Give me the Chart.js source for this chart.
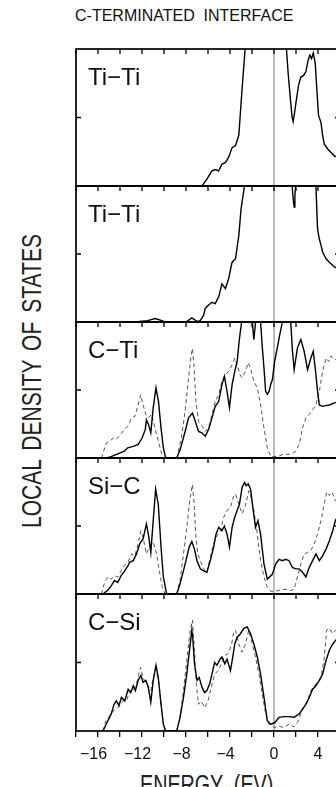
<!DOCTYPE html>
<html>
<head>
<meta charset="utf-8">
<script src="https://cdn.jsdelivr.net/npm/chart.js@4.4.1/dist/chart.umd.min.js"></script>
<style>
  html, body { margin: 0; padding: 0; background: #fff; width: 336px; height: 787px; overflow: hidden; }
  body { position: relative; }
  .txt { position: absolute; font-family: "Liberation Sans", Arial, sans-serif; color: #111; white-space: pre; line-height: 1; }
  .panel { position: absolute; }
</style>
</head>
<body>
<div class="txt" style="left:75px; top:8px; font-size:16px;">C-TERMINATED  INTERFACE</div>
<div class="txt" style="left:31.7px; top:381px; font-size:27px; color:#222; word-spacing:4px; transform:translate(-50%,-50%) rotate(-90deg) scaleX(0.78);">LOCAL DENSITY OF STATES</div>
<div class="txt" style="left:140px; top:771.5px; font-size:27px; color:#222; transform-origin:left top; transform:scaleX(0.73);">ENERGY  (EV)</div>
<div id="panels"></div>
<script>
// energy axis
const energyMin = -18, energyMax = 6;
const xTickValues = [-16, -12, -8, -4, 0, 4];
const xTickLabels = ["\u221216  ", "\u221212  ", "\u22128  ", "\u22124  ", "0", "4"];
const panelLabels = ["Ti\u2212Ti", "Ti\u2212Ti", "C\u2212Ti", "Si\u2212C", "C\u2212Si"];

// panel 1: Ti-Ti
const p1SolidE = [-6.55, -6.1, -5.64, -5.34, -5.03, -4.73, -4.42, -4.12, -3.81, -3.5, -3.2, -3.05, -2.9, -2.74, -2.6, -2.45, 0.95, 1.13, 1.3, 1.5, 1.65, 1.74, 1.85, 1.98, 2.23, 2.44, 2.68, 2.9, 3.11, 3.26, 3.41, 3.57, 3.75, 3.93, 4.05, 4.27, 4.42, 4.57, 4.88, 5.18, 5.49, 6];
const p1Solid  = [0, 0.1, 0.22, 0.24, 0.22, 0.32, 0.34, 0.42, 0.56, 0.59, 0.74, 1.08, 1.42, 1.76, 2.05, 2.4, 2.4, 2.0, 1.62, 1.25, 1.0, 0.94, 1.05, 1.2, 1.47, 1.59, 1.61, 1.67, 1.84, 1.91, 1.86, 1.94, 1.79, 1.32, 1.03, 0.93, 0.74, 0.61, 0.54, 0.49, 0.44, 0.4];

// panel 2: Ti-Ti
const p2SolidE = [-12.4, -12.2, -11.5, -10.8, -10.2, -9.9, -8.0, -7.47, -7.0, -6.7, -6.4, -6.25, -5.95, -5.64, -5.34, -5.03, -4.73, -4.42, -4.12, -3.81, -3.5, -3.2, -2.99, -2.74, -2.6, -2.45, 1.45, 1.62, 1.75, 1.83, 1.9, 1.98, 2.1, 3.65, 3.81, 3.96, 4.12, 4.27, 4.42, 4.73, 5.03, 5.49, 6];
const p2Solid  = [0, 0.01, 0.02, 0.05, 0.02, 0, 0, 0.06, 0.01, 0.02, 0.1, 0.2, 0.25, 0.29, 0.27, 0.37, 0.56, 0.49, 0.64, 0.88, 0.93, 1.27, 1.67, 1.94, 2.1, 2.4, 2.4, 2.05, 1.8, 1.69, 1.85, 2.05, 2.4, 2.4, 2.0, 1.37, 1.22, 1.13, 1.03, 0.93, 0.88, 0.81, 0.77];

// panel 3: C-Ti
const p3SolidE = [-15.24, -14.8, -14.2, -13.6, -13.3, -12.8, -12.35, -12.0, -11.7, -11.6, -11.4, -11.2, -10.98, -10.73, -10.5, -10.27, -10.06, -9.85, -8.84, -8.54, -8.08, -7.77, -7.41, -7.16, -6.86, -6.55, -6.25, -5.95, -5.64, -5.34, -5.03, -4.73, -4.51, -4.27, -4.05, -3.81, -3.57, -3.35, -3.14, -2.9, -2.75, -2.2, -2.0, -1.83, -1.65, -1.5, -1.35, -1.22, -1.05, -0.91, -0.76, -0.6, -0.45, -0.3, -0.15, 0.06, 0.3, 0.52, 0.76, 0.9, 1.4, 1.52, 1.68, 1.83, 2.13, 2.44, 2.74, 3.05, 3.35, 3.57, 3.75, 3.96, 4.12, 4.42, 4.73, 5.03, 5.49, 6];
const p3Solid  = [0, 0.02, 0.06, 0.1, 0.15, 0.17, 0.2, 0.29, 0.42, 0.56, 0.49, 0.37, 0.74, 1.03, 0.83, 0.44, 0.15, 0, 0, 0.12, 0.39, 0.59, 0.66, 0.54, 0.39, 0.37, 0.32, 0.42, 0.59, 0.76, 0.83, 1.08, 1.2, 0.98, 0.74, 1.08, 1.27, 1.42, 1.76, 2.05, 2.4, 2.4, 2.05, 1.74, 2.05, 2.4, 2.4, 2.0, 1.6, 1.32, 0.98, 0.94, 0.98, 1.08, 1.15, 1.42, 1.62, 1.81, 2.0, 2.4, 2.4, 2.0, 1.57, 1.3, 1.62, 1.74, 1.57, 1.3, 1.47, 1.57, 1.32, 0.98, 0.78, 0.76, 0.77, 0.78, 0.81, 0.83];
const p3DashE = [-15.7, -15.24, -14.94, -14.6, -14.33, -14.0, -13.57, -13.26, -12.96, -12.65, -12.35, -12.13, -11.9, -11.65, -11.43, -11.13, -10.82, -10.52, -10.2, -10.06, -8.84, -8.69, -8.38, -8.08, -7.77, -7.53, -7.41, -7.26, -7.1, -6.86, -6.55, -6.25, -5.95, -5.64, -5.34, -5.03, -4.73, -4.42, -4.12, -3.81, -3.57, -3.35, -3.11, -2.9, -2.6, -2.35, -2.13, -1.83, -1.52, -1.22, -0.91, -0.61, -0.3, 0, 0.46, 0.91, 1.22, 1.68, 1.98, 2.29, 2.59, 2.9, 3.2, 3.51, 3.81, 4.12, 4.42, 4.73, 4.97, 5.18, 5.49, 6];
const p3Dash  = [0, 0.22, 0.25, 0.29, 0.27, 0.34, 0.42, 0.47, 0.59, 0.61, 0.78, 0.93, 0.78, 0.64, 0.59, 0.64, 0.44, 0.25, 0.05, 0, 0, 0.1, 0.34, 0.69, 1.18, 1.52, 1.61, 1.32, 0.83, 0.54, 0.47, 0.39, 0.44, 0.64, 0.83, 0.93, 1.13, 1.23, 1.27, 1.37, 1.47, 1.37, 1.23, 1.18, 1.27, 1.4, 1.32, 1.13, 1.03, 0.78, 0.44, 0.15, 0.02, 0.02, 0.03, 0.06, 0.05, 0.07, 0.1, 0.2, 0.44, 0.59, 0.64, 0.71, 0.78, 0.98, 1.27, 1.47, 1.42, 1.5, 1.45, 1.45];

// panel 4: Si-C
const p4SolidE = [-15.55, -15.1, -14.8, -14.5, -14.2, -13.9, -13.57, -13.26, -13.1, -12.8, -12.5, -12.2, -11.9, -11.6, -11.4, -11.2, -10.98, -10.76, -10.52, -10.27, -10.06, -9.76, -8.84, -8.54, -8.08, -7.71, -7.47, -7.23, -7.0, -6.7, -6.4, -6.1, -5.79, -5.49, -5.27, -5.03, -4.73, -4.51, -4.27, -4.05, -3.81, -3.57, -3.35, -3.14, -2.9, -2.68, -2.53, -2.35, -2.13, -1.89, -1.68, -1.46, -1.22, -0.91, -0.61, -0.15, 0.15, 0.46, 0.76, 1.07, 1.37, 1.68, 1.98, 2.29, 2.59, 2.9, 3.2, 3.51, 3.81, 4.12, 4.42, 4.73, 5.03, 5.34, 5.58, 6];
const p4Solid  = [0, 0.06, 0.12, 0.2, 0.17, 0.27, 0.34, 0.42, 0.47, 0.49, 0.59, 0.74, 0.81, 1.03, 0.86, 0.61, 1.08, 1.54, 1.32, 0.69, 0.25, 0, 0, 0.15, 0.44, 0.69, 0.77, 0.66, 0.49, 0.37, 0.34, 0.32, 0.49, 0.69, 0.88, 0.98, 0.93, 1.0, 0.88, 0.69, 0.98, 1.13, 1.23, 1.32, 1.57, 1.64, 1.59, 1.62, 1.54, 1.23, 0.98, 1.08, 0.88, 0.44, 0.22, 0.29, 0.44, 0.51, 0.49, 0.51, 0.49, 0.39, 0.37, 0.37, 0.32, 0.25, 0.39, 0.49, 0.59, 0.49, 0.56, 0.66, 0.78, 0.93, 1.08, 1.2];
const p4DashE = [-15.7, -15.4, -15.1, -14.8, -14.5, -14.2, -13.9, -13.57, -13.26, -12.96, -12.65, -12.35, -12.1, -11.9, -11.6, -11.28, -10.98, -10.67, -10.37, -10.15, -9.9, -8.84, -8.54, -8.23, -7.93, -7.62, -7.41, -7.26, -7.1, -6.92, -6.7, -6.4, -6.1, -5.79, -5.49, -5.18, -4.88, -4.57, -4.27, -3.96, -3.66, -3.5, -3.2, -2.9, -2.6, -2.29, -2.04, -1.83, -1.52, -1.22, -0.91, -0.61, -0.3, 0.15, 0.61, 1.07, 1.52, 1.83, 2.13, 2.44, 2.74, 3.05, 3.35, 3.66, 3.96, 4.27, 4.57, 4.79, 5.03, 5.27, 5.58, 6];
const p4Dash  = [0, 0.17, 0.25, 0.22, 0.27, 0.25, 0.34, 0.42, 0.47, 0.59, 0.56, 0.74, 0.93, 0.83, 0.59, 0.71, 0.76, 0.59, 0.29, 0.1, 0, 0, 0.2, 0.59, 0.98, 1.42, 1.61, 1.32, 0.83, 0.59, 0.49, 0.37, 0.32, 0.54, 0.74, 0.86, 0.93, 1.13, 1.23, 1.27, 1.45, 1.47, 1.32, 1.18, 1.3, 1.52, 1.4, 1.23, 0.88, 0.49, 0.25, 0.1, 0.04, 0.04, 0.06, 0.07, 0.05, 0.07, 0.25, 0.44, 0.59, 0.61, 0.64, 0.74, 0.88, 1.08, 1.32, 1.5, 1.45, 1.5, 1.37, 1.35];

// panel 5: C-Si
const p5SolidE = [-15.55, -15.1, -14.8, -14.54, -14.33, -14.1, -13.87, -13.57, -13.26, -13.02, -12.8, -12.6, -12.35, -12.1, -11.9, -11.65, -11.43, -11.2, -10.98, -10.73, -10.52, -10.27, -10.06, -9.85, -8.84, -8.54, -8.23, -7.93, -7.68, -7.47, -7.38, -7.23, -7.0, -6.8, -6.55, -6.31, -6.1, -5.85, -5.64, -5.4, -5.18, -4.97, -4.73, -4.48, -4.27, -3.96, -3.75, -3.57, -3.35, -3.05, -2.74, -2.44, -2.13, -1.83, -1.52, -1.22, -0.91, -0.61, -0.3, 0.06, 0.46, 0.91, 1.37, 1.83, 2.29, 2.59, 2.9, 3.2, 3.51, 3.81, 4.12, 4.42, 4.73, 5.03, 5.34, 5.58, 6];
const p5Solid  = [0, 0.15, 0.25, 0.39, 0.44, 0.37, 0.49, 0.44, 0.61, 0.56, 0.66, 0.59, 0.74, 0.81, 0.71, 0.74, 0.64, 0.42, 0.74, 0.96, 0.78, 0.39, 0.1, 0, 0, 0.2, 0.49, 0.83, 1.18, 1.47, 1.35, 0.98, 0.74, 0.78, 0.64, 0.56, 0.59, 0.69, 0.83, 1.0, 0.96, 1.03, 1.08, 0.98, 1.05, 0.88, 1.08, 1.27, 1.37, 1.42, 1.5, 1.52, 1.42, 1.27, 1.08, 0.83, 0.49, 0.15, 0.1, 0.12, 0.2, 0.21, 0.21, 0.2, 0.25, 0.32, 0.39, 0.49, 0.61, 0.66, 0.74, 0.83, 1.03, 1.18, 1.27, 1.32, 1.4];
const p5DashE = [-15.55, -15.24, -14.94, -14.63, -14.33, -14.02, -13.72, -13.41, -13.11, -12.8, -12.5, -12.13, -11.9, -11.65, -11.43, -11.2, -10.98, -10.73, -10.46, -10.2, -9.97, -8.84, -8.54, -8.23, -7.93, -7.62, -7.41, -7.23, -7.07, -6.86, -6.62, -6.31, -6.0, -5.7, -5.4, -5.09, -4.79, -4.48, -4.18, -3.87, -3.66, -3.5, -3.2, -2.9, -2.6, -2.29, -1.98, -1.68, -1.37, -1.07, -0.76, -0.46, 0, 0.46, 0.91, 1.37, 1.83, 2.13, 2.44, 2.74, 3.05, 3.35, 3.66, 3.96, 4.27, 4.57, 4.79, 5.03, 5.34, 5.58, 6];
const p5Dash  = [0, 0.17, 0.22, 0.29, 0.32, 0.37, 0.44, 0.44, 0.59, 0.59, 0.69, 0.93, 0.78, 0.69, 0.66, 0.59, 0.78, 0.91, 0.69, 0.29, 0, 0, 0.2, 0.59, 1.03, 1.47, 1.62, 1.18, 0.69, 0.39, 0.44, 0.34, 0.44, 0.64, 0.83, 0.88, 0.98, 1.1, 1.13, 1.25, 1.45, 1.47, 1.27, 1.15, 1.27, 1.47, 1.27, 1.08, 0.83, 0.54, 0.25, 0.1, 0.05, 0.07, 0.05, 0.1, 0.06, 0.12, 0.25, 0.37, 0.44, 0.59, 0.66, 0.71, 0.78, 1.08, 1.47, 1.5, 1.42, 1.47, 1.45];

const solidSeries = [[p1SolidE, p1Solid], [p2SolidE, p2Solid], [p3SolidE, p3Solid], [p4SolidE, p4Solid], [p5SolidE, p5Solid]];
const dashSeries  = [null, null, [p3DashE, p3Dash], [p4DashE, p4Dash], [p5DashE, p5Dash]];

// layout
const plotLeft = 76, plotWidth = 264;
const panelTop = [49, 186, 322, 458, 594];
const panelBottom = [186, 322, 458, 594, 731];
const padL = 8, padR = 8, padT = 4, padB = 8, axisH = 40;
const FONT = '"Liberation Sans", Arial, sans-serif';

const toPoints = (xs, ys) => xs.map((x, i) => ({x: x, y: ys[i]}));

// frame, zero line, inward ticks
const framePlugin = {
  id: 'frame',
  beforeDatasetsDraw(chart) {
    const {ctx, chartArea: a, scales: {x}} = chart;
    const x0 = x.getPixelForValue(0);
    ctx.save();
    ctx.strokeStyle = '#777';
    ctx.lineWidth = 1;
    ctx.beginPath();
    ctx.moveTo(x0, a.top);
    ctx.lineTo(x0, a.bottom);
    ctx.stroke();
    ctx.restore();
  },
  afterDatasetsDraw(chart) {
    const {ctx, chartArea: a, scales: {x, y}} = chart;
    ctx.save();
    ctx.strokeStyle = '#000';
    ctx.lineWidth = 1.7;
    ctx.strokeRect(a.left, a.top, a.right - a.left, a.bottom - a.top);
    ctx.lineWidth = 1.3;
    ctx.beginPath();
    x.ticks.forEach(t => {
      const px = x.getPixelForValue(t.value);
      ctx.moveTo(px, a.top);
      ctx.lineTo(px, a.top + 5);
    });
    const py = y.getPixelForValue(1);
    ctx.moveTo(a.left, py); ctx.lineTo(a.left + 5, py);
    ctx.moveTo(a.right, py); ctx.lineTo(a.right - 5, py);
    ctx.stroke();
    ctx.restore();
  }
};

const host = document.getElementById('panels');
for (let i = 0; i < 5; i++) {
  const last = i === 4;
  const h = panelBottom[i] - panelTop[i];
  const wrap = document.createElement('div');
  wrap.className = 'panel';
  wrap.style.left = (plotLeft - padL) + 'px';
  wrap.style.top = (panelTop[i] - padT) + 'px';
  const cv = document.createElement('canvas');
  cv.width = plotWidth + padL + padR;
  cv.height = h + padT + (last ? axisH : padB);
  wrap.appendChild(cv);
  host.appendChild(wrap);

  const lbl = document.createElement('div');
  lbl.className = 'txt';
  lbl.style.left = '88px';
  lbl.style.top = (panelTop[i] + 16) + 'px';
  lbl.style.fontSize = '24px';
  lbl.textContent = panelLabels[i];
  document.body.appendChild(lbl);

  const datasets = [{
    data: toPoints(solidSeries[i][0], solidSeries[i][1]),
    borderColor: '#000',
    borderWidth: 1.4,
    pointRadius: 0,
    fill: false
  }];
  if (dashSeries[i]) {
    datasets.push({
      data: toPoints(dashSeries[i][0], dashSeries[i][1]),
      borderColor: '#555',
      borderWidth: 1,
      borderDash: [4, 3],
      pointRadius: 0,
      fill: false
    });
  }

  const xScale = {
    type: 'linear',
    min: energyMin,
    max: energyMax,
    display: last,
    border: {display: false},
    grid: {drawOnChartArea: false, drawTicks: true, tickLength: 6, color: '#000', lineWidth: 1.3},
    ticks: {
      stepSize: 2,
      autoSkip: false,
      maxRotation: 0,
      padding: 8,
      color: '#111',
      font: {family: FONT, size: 16},
      callback: v => {
        const k = xTickValues.indexOf(v);
        return k >= 0 ? xTickLabels[k] : '';
      }
    }
  };
  if (last) xScale.afterFit = s => { s.height = axisH; };

  new Chart(cv, {
    type: 'line',
    data: {datasets: datasets},
    options: {
      responsive: false,
      animation: false,
      events: [],
      layout: {padding: {left: padL, right: padR, top: padT, bottom: last ? 0 : padB}},
      plugins: {legend: {display: false}, tooltip: {enabled: false}},
      scales: {
        x: xScale,
        y: {min: 0, max: 2, display: false}
      }
    },
    plugins: [framePlugin]
  });
}
</script>
</body>
</html>
